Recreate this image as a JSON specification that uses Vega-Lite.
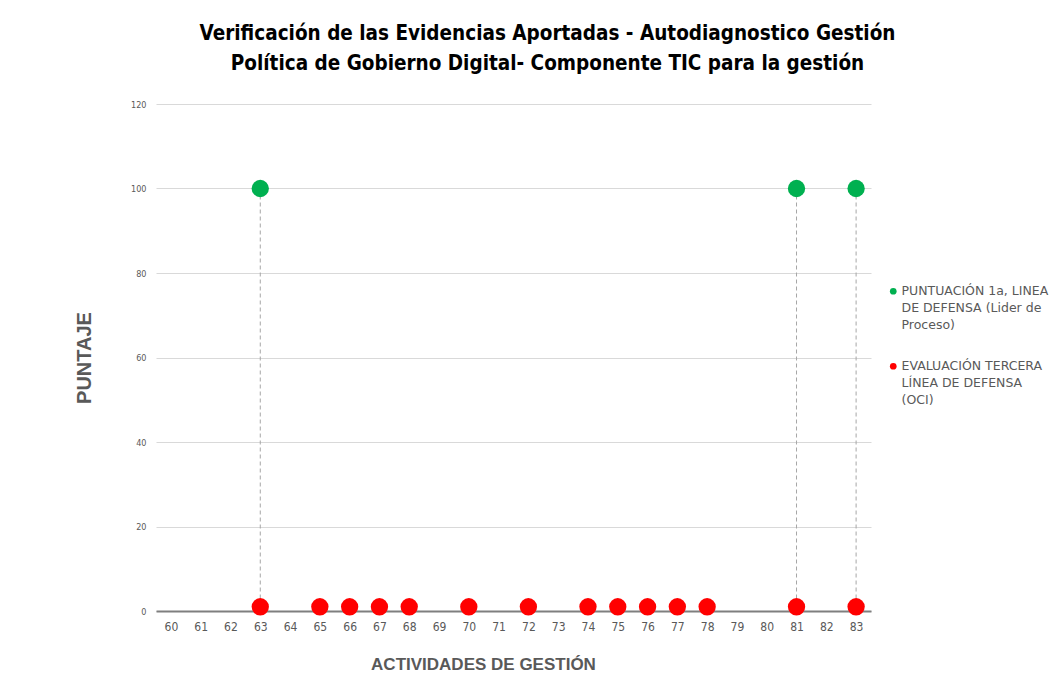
{
  "$schema": "https://vega.github.io/schema/vega-lite/v6.json",
  "width": 715,
  "height": 507,
  "autosize": {"type": "none"},
  "padding": {"left": 156, "top": 104, "right": 182, "bottom": 83},
  "background": "white",
  "title": {
    "text": ["Verificación de las Evidencias Aportadas - Autodiagnostico Gestión", "Política de Gobierno Digital- Componente TIC para la gestión"],
    "font": "Liberation Sans Narrow, DejaVu Sans Condensed, Roboto Condensed, Roboto",
    "fontSize": 20.5,
    "fontWeight": "bold",
    "color": "#000000",
    "anchor": "middle",
    "dx": 34,
    "offset": 26,
    "lineHeight": 30
  },
  "data": {
    "values": [
      {"actividad": "63", "serie": "PUNTUACIÓN 1a, LINEA DE DEFENSA (Lider de Proceso)", "puntaje": 100},
      {"actividad": "81", "serie": "PUNTUACIÓN 1a, LINEA DE DEFENSA (Lider de Proceso)", "puntaje": 100},
      {"actividad": "83", "serie": "PUNTUACIÓN 1a, LINEA DE DEFENSA (Lider de Proceso)", "puntaje": 100},
      {"actividad": "63", "serie": "EVALUACIÓN TERCERA LÍNEA DE DEFENSA (OCI)", "puntaje": 1},
      {"actividad": "65", "serie": "EVALUACIÓN TERCERA LÍNEA DE DEFENSA (OCI)", "puntaje": 1},
      {"actividad": "66", "serie": "EVALUACIÓN TERCERA LÍNEA DE DEFENSA (OCI)", "puntaje": 1},
      {"actividad": "67", "serie": "EVALUACIÓN TERCERA LÍNEA DE DEFENSA (OCI)", "puntaje": 1},
      {"actividad": "68", "serie": "EVALUACIÓN TERCERA LÍNEA DE DEFENSA (OCI)", "puntaje": 1},
      {"actividad": "70", "serie": "EVALUACIÓN TERCERA LÍNEA DE DEFENSA (OCI)", "puntaje": 1},
      {"actividad": "72", "serie": "EVALUACIÓN TERCERA LÍNEA DE DEFENSA (OCI)", "puntaje": 1},
      {"actividad": "74", "serie": "EVALUACIÓN TERCERA LÍNEA DE DEFENSA (OCI)", "puntaje": 1},
      {"actividad": "75", "serie": "EVALUACIÓN TERCERA LÍNEA DE DEFENSA (OCI)", "puntaje": 1},
      {"actividad": "76", "serie": "EVALUACIÓN TERCERA LÍNEA DE DEFENSA (OCI)", "puntaje": 1},
      {"actividad": "77", "serie": "EVALUACIÓN TERCERA LÍNEA DE DEFENSA (OCI)", "puntaje": 1},
      {"actividad": "78", "serie": "EVALUACIÓN TERCERA LÍNEA DE DEFENSA (OCI)", "puntaje": 1},
      {"actividad": "81", "serie": "EVALUACIÓN TERCERA LÍNEA DE DEFENSA (OCI)", "puntaje": 1},
      {"actividad": "83", "serie": "EVALUACIÓN TERCERA LÍNEA DE DEFENSA (OCI)", "puntaje": 1}
    ]
  },
  "encoding": {
    "x": {
      "field": "actividad",
      "type": "ordinal",
      "sort": null,
      "scale": {"type": "point", "padding": 0.5, "domain": ["60","61","62","63","64","65","66","67","68","69","70","71","72","73","74","75","76","77","78","79","80","81","82","83"]},
      "axis": {
        "title": "ACTIVIDADES  DE  GESTIÓN",
        "titleFont": "Liberation Sans, Arial",
        "titleFontSize": 17,
        "titleFontWeight": "bold",
        "titleColor": "#595959",
        "titleX": 327,
        "titleY": 45,
        "titleAlign": "center",
        "labelAngle": 0,
        "labelFont": "Liberation Sans Narrow, DejaVu Sans Condensed, Roboto",
        "labelFontSize": 12,
        "labelColor": "#595959",
        "labelPadding": 10,
        "ticks": false,
        "grid": false,
        "domainColor": "#7f7f7f",
        "domainWidth": 2
      }
    },
    "y": {
      "field": "puntaje",
      "type": "quantitative",
      "scale": {"domain": [0, 120], "nice": false},
      "axis": {
        "values": [0, 20, 40, 60, 80, 100, 120],
        "title": "PUNTAJE",
        "titleFont": "Liberation Sans, Arial",
        "titleFontSize": 20,
        "titleFontWeight": "bold",
        "titleColor": "#595959",
        "titlePadding": 36,
        "labelFont": "Liberation Sans Narrow, DejaVu Sans Condensed, Roboto",
        "labelFontSize": 9,
        "labelColor": "#595959",
        "labelPadding": 10,
        "ticks": false,
        "domain": false,
        "gridColor": "#d9d9d9",
        "gridWidth": 1
      }
    }
  },
  "layer": [
    {
      "transform": [{"filter": "datum.puntaje > 50"}],
      "mark": {"type": "rule", "strokeDash": [4, 3], "color": "#a6a6a6", "strokeWidth": 1},
      "encoding": {
        "y2": {"datum": 0}
      }
    },
    {
      "mark": {"type": "point", "filled": true, "opacity": 1, "shape": "circle", "size": 300},
      "encoding": {
        "color": {
          "field": "serie",
          "type": "nominal",
          "scale": {
            "domain": ["PUNTUACIÓN 1a, LINEA DE DEFENSA (Lider de Proceso)", "EVALUACIÓN TERCERA LÍNEA DE DEFENSA (OCI)"],
            "range": ["#00B050", "#FF0000"]
          },
          "legend": {
            "title": null,
            "orient": "none",
            "direction": "vertical",
            "legendX": 731,
            "legendY": 181,
            "symbolType": "circle",
            "symbolSize": 45,
            "symbolOpacity": 1,
            "labelFont": "DejaVu Sans, Verdana",
            "labelFontSize": 12.5,
            "labelColor": "#595959",
            "labelLimit": 200,
            "labelOffset": 2,
            "rowPadding": 28,
            "padding": 0,
            "labelBaseline": "top",
            "labelExpr": "datum.label == 'PUNTUACIÓN 1a, LINEA DE DEFENSA (Lider de Proceso)' ? ['PUNTUACIÓN 1a, LINEA', 'DE DEFENSA (Lider de', 'Proceso)'] : ['EVALUACIÓN TERCERA', 'LÍNEA DE DEFENSA', '(OCI)']",
            "encode": {"labels": {"update": {"lineHeight": {"value": 17}, "dy": {"value": -6}}}}
          }
        }
      }
    }
  ],
  "config": {
    "view": {"stroke": null}
  }
}
